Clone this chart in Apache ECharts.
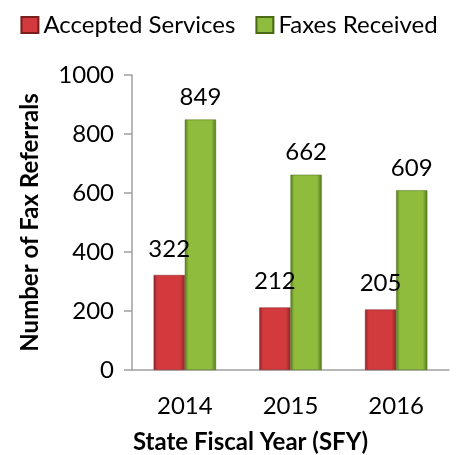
<!DOCTYPE html>
<html>
<head>
<meta charset="utf-8">
<script src="https://cdn.jsdelivr.net/npm/echarts@6/dist/echarts.min.js"></script>
<style>
  html, body { margin: 0; padding: 0; background: #fff; }
  #chartmain { width: 458px; height: 455px; }
</style>
</head>
<body>
<div id="chartmain"></div>
<script>
// data
var years = ['2014', '2015', '2016'];
var acceptedServices = [322, 212, 205];
var faxesReceived = [849, 662, 609];
var yTicks = [0, 200, 400, 600, 800, 1000];

var fontName = 'Lato';

// 柱子的横向渐变，模拟立体效果
function barColor(edge, mid) {
    return new echarts.graphic.LinearGradient(0, 0, 1, 0, [
        { offset: 0, color: edge },
        { offset: 0.12, color: mid },
        { offset: 0.85, color: mid },
        { offset: 1, color: edge }
    ]);
}

var myChart = echarts.init(document.getElementById('chartmain'));

var option = {
    animation: false,
    textStyle: { fontFamily: fontName },
    legend: {
        top: 8,
        left: 'center',
        icon: 'rect',
        itemWidth: 17,
        itemHeight: 16,
        itemGap: 20,
        textStyle: { fontSize: 24, color: '#000', fontFamily: fontName },
        data: ['Accepted Services', 'Faxes Received']
    },
    grid: { left: 132, right: 9, top: 75, bottom: 85, containLabel: false, outerBoundsMode: 'none' },
    xAxis: {
        type: 'category',
        data: years,
        axisLine: { lineStyle: { color: '#a0a0a0', width: 1.5 } },
        axisTick: { show: false },
        axisLabel: { fontSize: 24, color: '#000', margin: 24 },
        name: 'State Fiscal Year (SFY)',
        nameLocation: 'middle',
        nameGap: 60,
        nameTextStyle: { fontSize: 24, fontWeight: 'bold', color: '#000', padding: [0, 80, 0, 0] }
    },
    yAxis: {
        type: 'value',
        min: yTicks[0],
        max: yTicks[yTicks.length - 1],
        interval: yTicks[1] - yTicks[0],
        splitLine: { show: false },
        axisLine: { show: true, lineStyle: { color: '#a0a0a0', width: 1.5 } },
        axisTick: { show: true, length: 8, lineStyle: { color: '#a0a0a0', width: 1.5 } },
        axisLabel: {
            fontSize: 24, color: '#000', margin: 18,
            formatter: function (v) { return String(v); }
        },
        name: 'Number of Fax Referrals',
        nameLocation: 'middle',
        nameGap: 90,
        nameTextStyle: { fontSize: 24, fontWeight: 'bold', color: '#000' }
    },
    series: [
        {
            name: 'Accepted Services',
            type: 'bar',
            barGap: '0%',
            barCategoryGap: '41%',
            data: acceptedServices,
            itemStyle: {
                color: barColor('#8f2424', '#d23a3e'),
                borderColor: '#7a1e1e',
                borderWidth: 0.5
            },
            label: { show: true, position: 'top', distance: 14, fontSize: 24, color: '#000' }
        },
        {
            name: 'Faxes Received',
            type: 'bar',
            data: faxesReceived,
            itemStyle: {
                color: barColor('#577a1e', '#8fbc3c'),
                borderColor: '#4a6a18',
                borderWidth: 0.5
            },
            label: { show: true, position: 'top', distance: 10, fontSize: 24, color: '#000' }
        }
    ]
};

myChart.setOption(option);
window.addEventListener('resize', function () {
    myChart.resize();
});
</script>
</body>
</html>
